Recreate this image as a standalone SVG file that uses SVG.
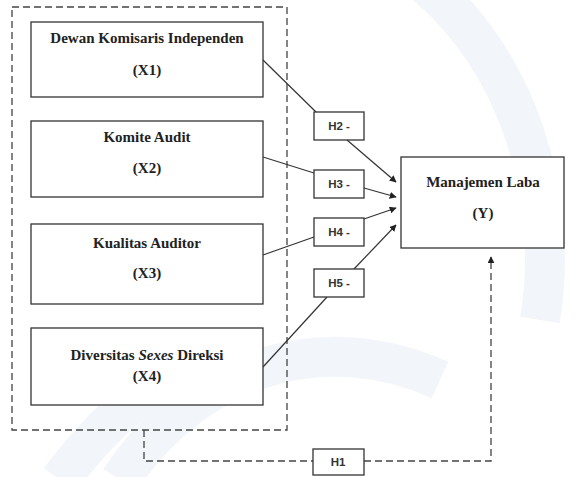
<svg xmlns="http://www.w3.org/2000/svg" width="576" height="477" viewBox="0 0 576 477">
<style>
.box{fill:#fff;stroke:#333;stroke-width:1.3}
.lbl{font-family:"Liberation Serif",serif;font-weight:bold;font-size:15px;fill:#222;text-anchor:middle}
.h{font-family:"Liberation Sans",sans-serif;font-weight:bold;font-size:11.5px;fill:#333;text-anchor:middle}
.ln{fill:none;stroke:#333;stroke-width:1.2}
.dash{fill:none;stroke:#444;stroke-width:1.3;stroke-dasharray:7 4}
.wm{fill:none;stroke:#f2f5fa;stroke-width:40}
</style>
<defs>
<marker id="ah" viewBox="0 0 10 10" refX="9" refY="5" markerWidth="7" markerHeight="7" orient="auto" markerUnits="userSpaceOnUse">
<path d="M0,0 L10,5 L0,10 z" fill="#222"/>
</marker>
</defs>
<rect width="576" height="477" fill="#fff"/>
<g id="watermark">
<path class="wm" d="M420,-20 C520,60 560,200 540,320"/>
<path class="wm" d="M120,480 C200,360 330,330 440,380"/>
<path class="wm" d="M60,480 C120,400 170,370 230,360"/>
</g>
<rect id="group-x" class="dash" x="12" y="7" width="275" height="423"/>
<g id="connectors">
<path class="ln" d="M263,60 L316,112"/>
<path class="ln" d="M347,140 L396,182" marker-end="url(#ah)"/>
<path class="ln" d="M263,157 L314,173"/>
<path class="ln" d="M364,188 L396,197" marker-end="url(#ah)"/>
<path class="ln" d="M263,255 L314,237"/>
<path class="ln" d="M364,219 L396,208" marker-end="url(#ah)"/>
<path class="ln" d="M263,367 L327,297"/>
<path class="ln" d="M354,269 L396,225" marker-end="url(#ah)"/>
<path class="dash" d="M144,430 L144,461 L313,461"/>
<path class="dash" d="M364,461 L491,461 L491,257" marker-end="url(#ah)"/>
</g>
<g id="x1"><rect class="box" x="31" y="22" width="232" height="75"/><text class="lbl" x="147" y="43">Dewan Komisaris Independen</text><text class="lbl" x="147" y="75">(X1)</text></g>
<g id="x2"><rect class="box" x="31" y="121" width="232" height="76"/><text class="lbl" x="147" y="142">Komite Audit</text><text class="lbl" x="147" y="173">(X2)</text></g>
<g id="x3"><rect class="box" x="31" y="224" width="232" height="80"/><text class="lbl" x="147" y="248">Kualitas Auditor</text><text class="lbl" x="147" y="278">(X3)</text></g>
<g id="x4"><rect class="box" x="31" y="328" width="232" height="77"/><text class="lbl" x="147" y="360">Diversitas <tspan font-style="italic">Sexes</tspan> Direksi</text><text class="lbl" x="147" y="381">(X4)</text></g>
<g id="y"><rect class="box" x="401" y="157" width="163" height="91"/><text class="lbl" x="483" y="187">Manajemen Laba</text><text class="lbl" x="483" y="218">(Y)</text></g>
<g id="h2"><rect class="box" x="314" y="112" width="50" height="28"/><text class="h" x="339" y="130">H2 -</text></g>
<g id="h3"><rect class="box" x="314" y="170" width="50" height="28"/><text class="h" x="339" y="188">H3 -</text></g>
<g id="h4"><rect class="box" x="314" y="218" width="50" height="28"/><text class="h" x="339" y="236">H4 -</text></g>
<g id="h5"><rect class="box" x="314" y="269" width="50" height="28"/><text class="h" x="339" y="287">H5 -</text></g>
<g id="h1"><rect class="box" x="313" y="449" width="51" height="26"/><text class="h" x="338" y="466">H1</text></g>
</svg>
